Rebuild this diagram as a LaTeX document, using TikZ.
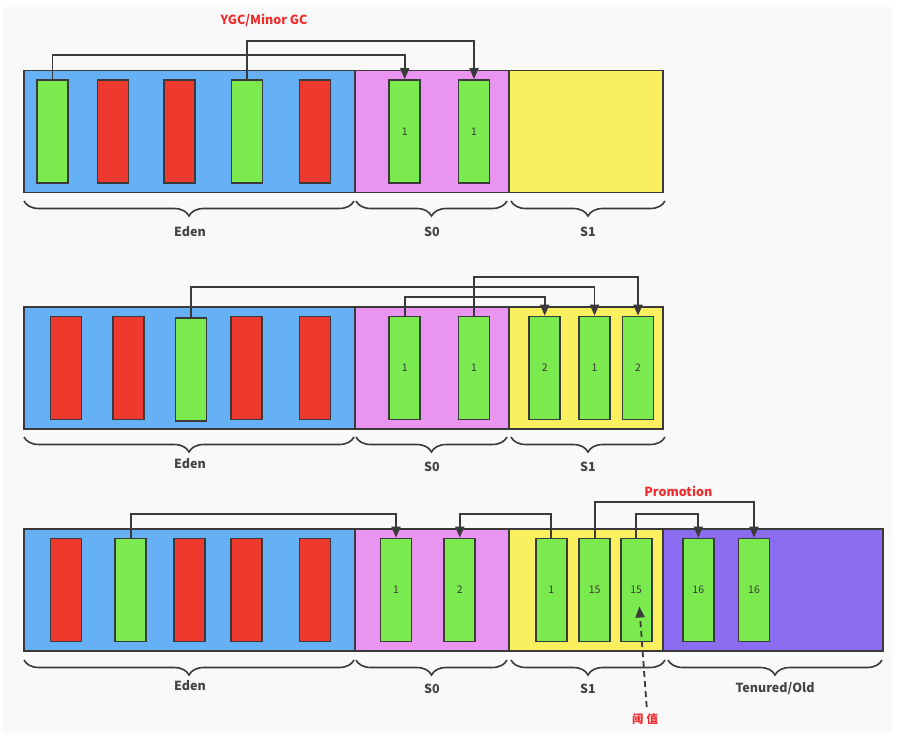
\documentclass[tikz,border=0pt]{standalone}
\usepackage{fontspec}
\setmainfont{Noto Sans CJK SC}
\usetikzlibrary{arrows.meta,decorations.pathreplacing,calc}
\definecolor{edenc}{HTML}{66B0F5}
\definecolor{szeroc}{HTML}{EA94F2}
\definecolor{sonec}{HTML}{F9EF5F}
\definecolor{oldc}{HTML}{8B6CF0}
\definecolor{liveg}{HTML}{7BEA4E}
\definecolor{deadr}{HTML}{EE3A2E}
\definecolor{edgec}{HTML}{3A3A3A}
\definecolor{txtc}{HTML}{444444}
\definecolor{redtxt}{HTML}{F02C2C}
\definecolor{bgc}{HTML}{F9F9F9}
\begin{document}
\begin{tikzpicture}[x=1pt,y=-1pt,
  region/.style={draw=edgec,line width=1.7pt,inner sep=0pt,outer sep=0pt,minimum height=122pt},
  blk/.style={draw=edgec,line width=1.7pt,inner sep=0pt,minimum width=31pt,minimum height=103pt,font=\fontsize{10.5}{12}\selectfont,text=edgec},
  live/.style={blk,fill=liveg},
  dead/.style={blk,fill=deadr},
  arr/.style={draw=edgec,line width=1.8pt,-{Triangle[length=11pt,width=9pt]}},
  bracestyle/.style={draw=edgec,line width=1.6pt,decorate,decoration={brace,amplitude=15pt,mirror}},
  lbl/.style={font=\fontsize{12.5}{14}\selectfont\bfseries,text=txtc},
  redlbl/.style={font=\fontsize{12.5}{14}\selectfont\bfseries,text=redtxt}
]
\useasboundingbox (0,0) rectangle (904,735);
\fill[white] (0,0) rectangle (904,735);
\fill[bgc] (3,7) rectangle (892,733);

% ---------- Panel 1 ----------
\node[region,fill=edenc,minimum width=331pt] (eA) at (189.5,131.5) {};
\node[region,fill=szeroc,minimum width=154pt] (sA0) at (432,131.5) {};
\node[region,fill=sonec,minimum width=154pt] (sA1) at (586,131.5) {};
\node[live] (a1) at (52.5,131.5) {};
\node[dead] (a2) at (113,131.5) {};
\node[dead] (a3) at (179.5,131.5) {};
\node[live] (a4) at (247,131.5) {};
\node[dead] (a5) at (315,131.5) {};
\node[live] (a6) at (404.7,131.5) {1};
\node[live] (a7) at (474,131.5) {1};
\draw[arr] (a1.north) -- (a1.north |- 0,54.7) -| (a6.north);
\draw[arr] (a4.north) -- (a4.north |- 0,41.3) -| (a7.north);
\node[redlbl] (title) at (264,20) {YGC/Minor GC};
\draw[bracestyle] (24,201) -- (354,201);
\draw[bracestyle] (356,201) -- (507,201);
\draw[bracestyle] (511,201) -- (665,201);
\node[lbl] (lA1) at (190,232) {Eden};
\node[lbl] (lA2) at (432,232) {S0};
\node[lbl] (lA3) at (588,232) {S1};

% ---------- Panel 2 ----------
\node[region,fill=edenc,minimum width=331pt] (eB) at (189.5,368) {};
\node[region,fill=szeroc,minimum width=154pt] (sB0) at (432,368) {};
\node[region,fill=sonec,minimum width=154pt] (sB1) at (586,368) {};
\node[dead] (b1) at (66,368) {};
\node[dead] (b2) at (128.5,368) {};
\node[live] (b3) at (191,369.3) {};
\node[dead] (b4) at (246.8,368) {};
\node[dead] (b5) at (315,368) {};
\node[live] (b6) at (404.7,368) {1};
\node[live] (b7) at (474,368) {1};
\node[live] (b8) at (544.7,368) {2};
\node[live] (b9) at (594.5,368) {1};
\node[live] (b10) at (638,368) {2};
\draw[arr] (b3.north) -- (b3.north |- 0,286.7) -| (b9.north);
\draw[arr] (b6.north) -- (b6.north |- 0,297.3) -| (b8.north);
\draw[arr] (b7.north) -- (b7.north |- 0,277.3) -| (b10.north);
\draw[bracestyle] (24,437) -- (354,437);
\draw[bracestyle] (356,437) -- (507,437);
\draw[bracestyle] (511,437) -- (665,437);
\node[lbl] (lB1) at (190,463.5) {Eden};
\node[lbl] (lB2) at (432,466.5) {S0};
\node[lbl] (lB3) at (588,466.5) {S1};

% ---------- Panel 3 ----------
\node[region,fill=edenc,minimum width=331pt] (eC) at (189.5,590) {};
\node[region,fill=szeroc,minimum width=154pt] (sC0) at (432,590) {};
\node[region,fill=sonec,minimum width=154pt] (sC1) at (586,590) {};
\node[region,fill=oldc,minimum width=220pt] (oC) at (773,590) {};
\node[dead] (c1) at (66,590) {};
\node[live] (c2) at (130.7,590) {};
\node[dead] (c3) at (189.3,590) {};
\node[dead] (c4) at (246.8,590) {};
\node[dead] (c5) at (315,590) {};
\node[live] (c6) at (396,590) {1};
\node[live] (c7) at (459.8,590) {2};
\node[live] (c8) at (551.3,590) {1};
\node[live] (c9) at (594.7,590) {15};
\node[live] (c10) at (636.2,590) {15};
\node[live] (c11) at (698.3,590) {16};
\node[live] (c12) at (754,590) {16};
\draw[arr] (c2.north) -- (c2.north |- 0,513.7) -| (c6.north);
\draw[arr] (c8.north) -- (c8.north |- 0,513.7) -| (c7.north);
\draw[arr] (c9.north) -- (c9.north |- 0,502) -| (c12.north);
\draw[arr] (c10.north) -- (c10.north |- 0,513.7) -| (c11.north);
\node[redlbl] (promo) at (678.3,491.5) {Promotion};
\draw[bracestyle] (24,660) -- (354,660);
\draw[bracestyle] (356,660) -- (507,660);
\draw[bracestyle] (511,660) -- (665,660);
\draw[bracestyle] (668,660) -- (882,660);
\node[lbl] (lC1) at (190,686) {Eden};
\node[lbl] (lC2) at (432,689) {S0};
\node[lbl] (lC3) at (588,688.5) {S1};
\node[lbl] (lC4) at (775,688.5) {Tenured/Old};
\node[redlbl,font=\fontsize{11.5}{13}\selectfont\bfseries] (thr) at (645,719.5) {阈\hspace{3pt}值};
\coordinate (thrtip) at (639.3,606.5);
\draw[arr,dashed,dash pattern=on 6pt off 4pt] (646.7,707) -- (thrtip);
\end{tikzpicture}
\end{document}
